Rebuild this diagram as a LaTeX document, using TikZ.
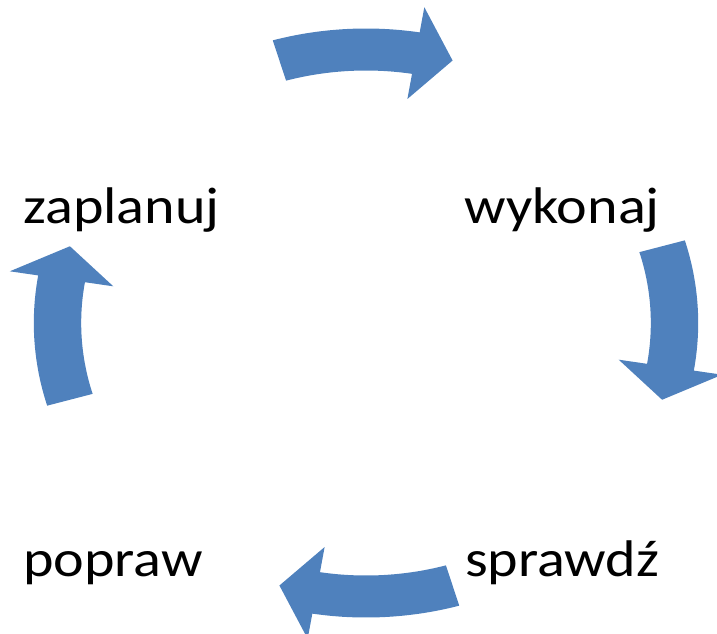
\documentclass[tikz,border=0pt]{standalone}
\usepackage{fontspec}
\setmainfont{Carlito}[FakeStretch=1.128]
\definecolor{accentblue}{HTML}{4F81BD}

% block arrow on the ring: #1 tail angle, #2 tip angle
\newcommand{\cyclearrow}[2]{%
    \fill[bluearrow] plot[domain=#1:#2+7] (\x:294.5)
        -- ({#2+7}:320) -- (#2:273.5) -- ({#2+7}:227)
        -- plot[domain=#2+7:#1] (\x:252.5) -- cycle;
}

\begin{document}
\begin{tikzpicture}[x=1pt, y=-1pt,
        stage/.style={inner sep=0, anchor=base west, font=\fontsize{51.5}{60}\selectfont},
        bluearrow/.style={fill=accentblue, samples=30}]

        \useasboundingbox (0,0) rectangle (717,633);

        % stages
        \node[stage] (plan) at (23,223) {zaplanuj};
        \node[stage] (exec) at (464,223) {wykonaj};
        \node[stage] (fix) at (23,576) {popraw};
        \node[stage] (check) at (465,576) {sprawdź};

        % arrows round the ring
        \begin{scope}[shift={(366,323)}, x=1.128pt, y=1pt]
            \cyclearrow{106.3}{73.7}
            \cyclearrow{16.3}{-16.3}
            \cyclearrow{-73.7}{-106.3}
            \cyclearrow{-163.7}{-196.3}
        \end{scope}

    \end{tikzpicture}
\end{document}
